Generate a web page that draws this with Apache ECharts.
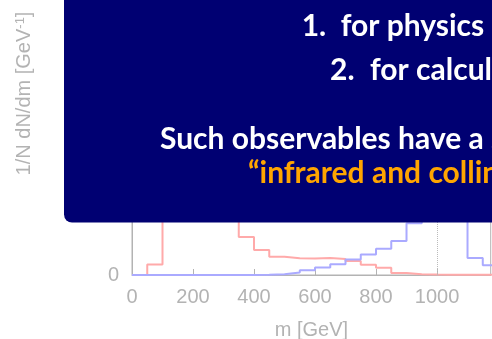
<!DOCTYPE html>
<html>
<head>
<meta charset="utf-8">
<script src="https://cdn.jsdelivr.net/npm/echarts@6/dist/echarts.min.js"></script>
<style>
  html, body { margin: 0; padding: 0; background: #ffffff; }
  #chart { width: 492px; height: 339px; }
</style>
</head>
<body>
<div id="chart"></div>
<script>
// Lower edges of the 50 GeV jet-mass bins
const binEdges = [0, 50, 100, 150, 200, 250, 300, 350, 400, 450, 500, 550,
                  600, 650, 700, 750, 800, 850, 900, 950, 1000, 1050, 1100, 1150];
const binWidth = 50;

// 1/N dN/dm per bin [GeV^-1]
const redDensity = [0, 0.00019, 0.0054, 0.0047, 0.0033, 0.0020, 0.0012, 0.00069,
                    0.000455, 0.00033, 0.000305, 0.00030, 0.00031, 0.000293, 0.000256, 0.000185,
                    0.00013, 0.000038, 0.000015, 0.000007, 0.000005, 0.000004, 0.000003, 0.000002];
const blueDensity = [0, 0, 0, 0, 0, 0, 0, 0,
                     0.000005, 0.000015, 0.000045, 0.000087, 0.000136, 0.000196, 0.000282, 0.000373,
                     0.000478, 0.000618, 0.00094, 0.0026, 0.0058, 0.0050, 0.00031, 0.000178];

const xTickStep = 200;
const xMax = 1176;
const yMax = 0.0066;
const yTickStep = 0.002;
const massMarker = 1000;

// Overlay text lines
const itemNumbers = ['1.', '2.'];
const itemTexts = ['for physics analyses', 'for calculations'];
const noteLine = 'Such observables have a special property:';
const noteHighlight = '\u201Cinfrared and collinear safety\u201D';

// Turn per-bin values into step-line vertices (value held across each bin)
function toSteps(values) {
  const pts = values.map((v, i) => [binEdges[i], v]);
  const last = values.length - 1;
  pts.push([binEdges[last] + binWidth, values[last]]);
  return pts;
}

const grey = '#b3b3b3';
const navy = '#000072';
const boxFont = 'bold 30px Lato';

const chart = echarts.init(document.getElementById('chart'), null, { renderer: 'canvas' });

chart.setOption({
  animation: false,
  backgroundColor: '#ffffff',
  grid: {
    left: 132, right: 1.3, bottom: 64, height: 363,
    outerBoundsMode: 'none',
    show: true, borderColor: grey, borderWidth: 1, backgroundColor: 'transparent'
  },
  xAxis: {
    type: 'value', min: 0, max: xMax, interval: xTickStep,
    name: 'm [GeV]', nameLocation: 'middle', nameGap: 45,
    nameTextStyle: { color: grey, fontSize: 20, fontFamily: 'Liberation Sans' },
    axisLine: { show: true, lineStyle: { color: grey, width: 1 } },
    axisTick: { show: true, inside: true, length: 6, lineStyle: { color: grey } },
    axisLabel: {
      color: grey, fontSize: 20, fontFamily: 'Liberation Sans', margin: 12, showMaxLabel: false,
      formatter: v => String(v)
    },
    splitLine: { show: false }
  },
  yAxis: {
    type: 'value', min: 0, max: yMax, interval: yTickStep,
    name: '1/N dN/dm [GeV{sup|-1}]', nameLocation: 'middle', nameGap: 98,
    nameTextStyle: {
      color: grey, fontSize: 20, fontFamily: 'Liberation Sans',
      rich: { sup: { fontSize: 13, color: grey, fontFamily: 'Liberation Sans', verticalAlign: 'top' } }
    },
    axisLine: { show: true, lineStyle: { color: grey, width: 1 } },
    axisTick: { show: true, inside: true, length: 6, lineStyle: { color: grey } },
    axisLabel: {
      color: grey, fontSize: 20, fontFamily: 'Liberation Sans', margin: 13, showMaxLabel: false,
      formatter: v => String(v)
    },
    splitLine: { show: false }
  },
  series: [
    {
      type: 'line', step: 'end', data: toSteps(redDensity), showSymbol: false, symbol: 'none',
      lineStyle: { color: '#ffaaaa', width: 2 }, silent: true, z: 2,
      markLine: {
        silent: true, symbol: 'none', label: { show: false },
        lineStyle: { type: 'dotted', color: '#bbbbbb', width: 1 },
        data: [{ xAxis: massMarker }]
      }
    },
    {
      type: 'line', step: 'end', data: toSteps(blueDensity), showSymbol: false, symbol: 'none',
      lineStyle: { color: '#aaaaff', width: 2 }, silent: true, z: 3
    }
  ],
  graphic: [
    {
      type: 'rect', z: 100, silent: true,
      shape: { x: 64, y: -20, width: 460, height: 242.5, r: 8 },
      style: { fill: navy }
    },
    { type: 'text', z: 101, x: 301.7, y: 26.5, silent: true,
      style: { text: itemNumbers[0], font: boxFont, fill: '#ffffff', align: 'left', verticalAlign: 'middle' } },
    { type: 'text', z: 101, x: 340.7, y: 26.5, silent: true,
      style: { text: itemTexts[0], font: boxFont, fill: '#ffffff', align: 'left', verticalAlign: 'middle' } },
    { type: 'text', z: 101, x: 330, y: 70, silent: true,
      style: { text: itemNumbers[1], font: boxFont, fill: '#ffffff', align: 'left', verticalAlign: 'middle' } },
    { type: 'text', z: 101, x: 370, y: 70, silent: true,
      style: { text: itemTexts[1], font: boxFont, fill: '#ffffff', align: 'left', verticalAlign: 'middle' } },
    { type: 'text', z: 101, x: 160, y: 139.5, silent: true,
      style: { text: noteLine, font: boxFont, fill: '#ffffff', align: 'left', verticalAlign: 'middle' } },
    { type: 'text', z: 101, x: 248, y: 173.5, silent: true,
      style: { text: noteHighlight, font: boxFont, fill: '#ffa500', align: 'left', verticalAlign: 'middle' } }
  ]
});
</script>
</body>
</html>
